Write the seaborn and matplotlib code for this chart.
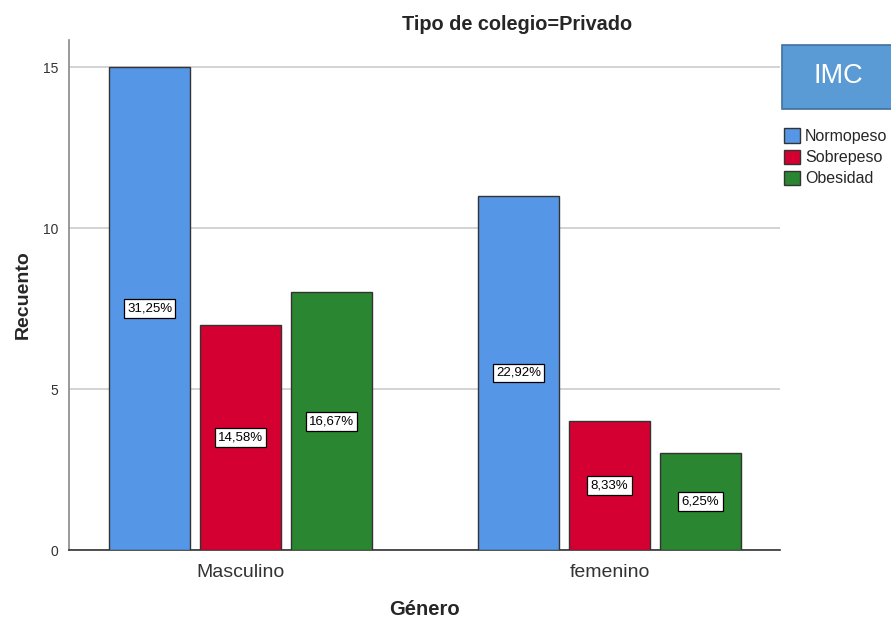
import matplotlib
matplotlib.use("Agg")
import matplotlib.pyplot as plt
import matplotlib.patches as mpatches
import seaborn as sns
import pandas as pd

# Counts by gender and BMI category (private schools)
generos = ["Masculino", "femenino"]
categorias = ["Normopeso", "Sobrepeso", "Obesidad"]
recuento_masculino = [15, 7, 8]
recuento_femenino = [11, 4, 3]
porcentajes_masculino = ["31,25%", "14,58%", "16,67%"]
porcentajes_femenino = ["22,92%", "8,33%", "6,25%"]
colores = ["#5596E6", "#D50032", "#2A8630"]
y_ticks = [0, 5, 10, 15]

df = pd.DataFrame({
    "Género": [generos[0]] * 3 + [generos[1]] * 3,
    "IMC": categorias * 2,
    "Recuento": recuento_masculino + recuento_femenino,
    "Etiqueta": porcentajes_masculino + porcentajes_femenino,
})

sns.set_theme(style="white")
plt.rcParams["font.family"] = ["Liberation Sans", "DejaVu Sans"]

fig = plt.figure(figsize=(8.91, 6.21), dpi=100)
ax = fig.add_axes([69 / 891, 1 - 550 / 621, (780 - 69) / 891, (550 - 40) / 621])

sns.barplot(data=df, x="Género", y="Recuento", hue="IMC", order=generos,
            hue_order=categorias, palette=colores, width=0.74, gap=0.11,
            edgecolor="#333333", linewidth=1.0, saturation=1, legend=False,
            ax=ax, zorder=3)

# percentage labels centred at half the bar height
for cont, cat in zip(ax.containers, categorias):
    sub = df[df["IMC"] == cat].set_index("Género").loc[generos]
    for bar, lab in zip(cont, sub["Etiqueta"]):
        ax.text(bar.get_x() + bar.get_width() / 2, bar.get_height() / 2, lab,
                ha="center", va="center", fontsize=9.5, color="black", zorder=5,
                bbox=dict(boxstyle="square,pad=0.25", fc="white", ec="black", lw=0.9))

ax.set_xlim(-0.465, 1.462)
ax.set_ylim(0, 15.84)
ax.set_yticks(y_ticks)
ax.set_yticklabels([str(t) for t in y_ticks], fontsize=10, color="#333333")
ax.tick_params(axis="x", labelsize=14, colors="#333333", length=0, pad=10)
ax.tick_params(axis="y", length=0, pad=8)
ax.grid(axis="y", color="#CCCCCC", linewidth=1.2, zorder=0)
ax.set_axisbelow(True)

for s in ["top", "right"]:
    ax.spines[s].set_visible(False)
ax.spines["left"].set_color("#888888")
ax.spines["left"].set_linewidth(1.2)
ax.spines["bottom"].set_color("#333333")
ax.spines["bottom"].set_linewidth(1.2)

ax.set_xlabel("Género", fontsize=14.5, fontweight="bold", labelpad=14)
ax.set_ylabel("Recuento", fontsize=14, fontweight="bold", labelpad=8)
fig.text(517 / 891, 1 - 25 / 621, "Tipo de colegio=Privado", ha="center",
         va="center", fontsize=14.3, fontweight="bold")

# legend title box
fig.patches.append(mpatches.Rectangle((782 / 891, 1 - 109 / 621), 115 / 891, 64 / 621,
                                      transform=fig.transFigure, fc="#5B9BD5",
                                      ec="#41719C", lw=1.2))
fig.text(838 / 891, 1 - 76 / 621, "IMC", ha="center", va="center",
         fontsize=19.5, color="white")

handles = [mpatches.Patch(facecolor=c, edgecolor="#333333", label=l)
           for c, l in zip(colores, categorias)]
fig.legend(handles=handles, loc="upper left", bbox_to_anchor=(778 / 891, 1 - 122 / 621),
           frameon=False, fontsize=11.5, handlelength=1.0, handleheight=1.0,
           handletextpad=0.3, labelspacing=0.35, borderaxespad=0)

fig.savefig("out.png", dpi=100)
